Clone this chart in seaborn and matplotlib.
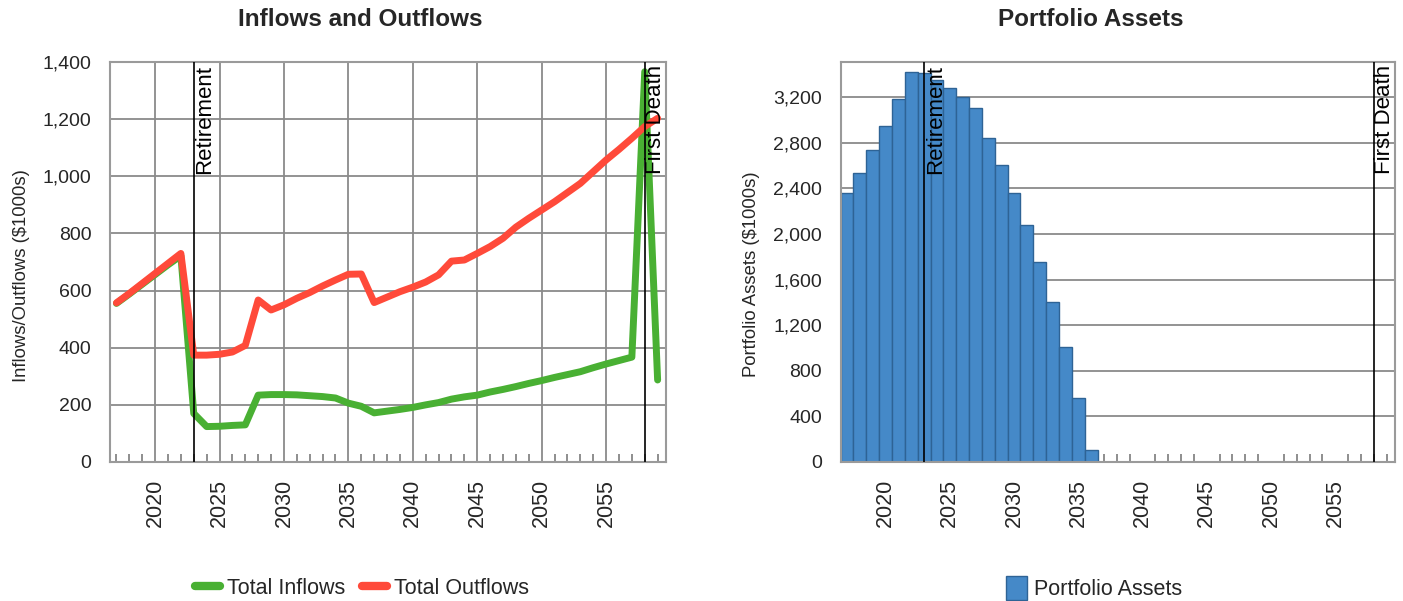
import numpy as np
import pandas as pd
import matplotlib
matplotlib.use('Agg')
import matplotlib.pyplot as plt
from matplotlib.ticker import MultipleLocator, FuncFormatter
from matplotlib.lines import Line2D
from matplotlib.patches import Patch
import seaborn as sns

# Years on both charts
years = list(range(2017, 2060))

# Inflows / outflows ($1000s)
total_inflows = [555, 588, 622, 656, 690, 722, 170, 124, 125, 128, 130, 234, 236, 236,
                 235, 232, 229, 224, 206, 195, 172, 178, 184, 191, 200, 208, 220, 228,
                 234, 245, 254, 264, 275, 285, 296, 306, 316, 330, 343, 355, 367, 1366, 287]
total_outflows = [557, 590, 625, 660, 695, 730, 374, 374, 377, 385, 408, 567, 532, 550,
                  573, 593, 616, 637, 657, 658, 558, 577, 596, 612, 630, 655, 703, 707,
                  730, 754, 783, 822, 853, 882, 911, 943, 975, 1016, 1057, 1094, 1133, 1174, 1203]

# Portfolio assets ($1000s)
asset_years = list(range(2017, 2037))
portfolio_assets = [2360, 2540, 2740, 2950, 3185, 3425, 3410, 3350, 3280, 3200,
                    3105, 2840, 2607, 2360, 2080, 1753, 1403, 1010, 565, 102]

retirement_year = 2023
first_death_year = 2058

green = '#49b033'
red = '#ff4a3a'
blue = '#4589c8'
grid_col = '#8a8a8a'
tick_col = '#707070'
spine_col = '#9a9a9a'

sns.set_style('white')
plt.rcParams['font.family'] = ['Liberation Sans', 'DejaVu Sans']

fig = plt.figure(figsize=(14.03, 6.01), dpi=100)
ax1 = fig.add_axes([110 / 1403, 139 / 601, 556 / 1403, 400 / 601])
ax2 = fig.add_axes([840.6 / 1403, 139 / 601, 554.4 / 1403, 400 / 601])

flows = pd.DataFrame({'year': years, 'Total Inflows': total_inflows, 'Total Outflows': total_outflows})
sns.lineplot(data=flows, x='year', y='Total Inflows', color=green, lw=5, ax=ax1, zorder=3)
sns.lineplot(data=flows, x='year', y='Total Outflows', color=red, lw=5, ax=ax1, zorder=4)

assets = pd.DataFrame({'year': asset_years, 'assets': portfolio_assets})
sns.barplot(data=assets, x='year', y='assets', native_scale=True, width=1.0,
            color=blue, saturation=1, edgecolor='#2e6395', linewidth=1.0, ax=ax2, zorder=2)

thousands = FuncFormatter(lambda v, p: f'{int(v):,}')

for ax in (ax1, ax2):
    ax.set_xlim(2016.5, 2059.65)
    ax.xaxis.set_major_locator(MultipleLocator(5))
    ax.xaxis.set_minor_locator(MultipleLocator(1))
    ax.tick_params(axis='x', which='major', direction='out', length=6, width=1.2,
                   color=tick_col, labelrotation=90, labelsize=15.5, pad=6)
    ax.tick_params(axis='x', which='minor', direction='in', length=6, width=1.1,
                   color=tick_col, bottom=True)
    ax.tick_params(axis='y', which='major', direction='out', length=7, width=1.2,
                   color=tick_col, labelsize=14, pad=6.5)
    ax.yaxis.set_major_formatter(thousands)
    ax.set_xlabel('')
    for s in ax.spines.values():
        s.set_color(spine_col)
        s.set_linewidth(1.5)
    ax.set_axisbelow(True)

ax1.set_ylim(0, 1400)
ax1.yaxis.set_major_locator(MultipleLocator(200))
ax1.grid(True, which='major', color=grid_col, lw=1.3)
ax1.set_ylabel('Inflows/Outflows ($1000s)', fontsize=13.3)
ax1.yaxis.set_label_coords(-0.143, 0.467)

ax2.set_ylim(0, 3510)
ax2.yaxis.set_major_locator(MultipleLocator(400))
ax2.grid(True, axis='y', which='major', color=grid_col, lw=1.3)
ax2.grid(False, axis='x')
ax2.set_ylabel('Portfolio Assets ($1000s)', fontsize=13.3)
ax2.yaxis.set_label_coords(-0.145, 0.47)

for ax in (ax1, ax2):
    ymax = ax.get_ylim()[1]
    for yr, name in ((retirement_year, 'Retirement'), (first_death_year, 'First Death')):
        ax.axvline(yr, color='black', lw=1.2, zorder=5)
        ax.text(yr + 0.05, ymax * 0.993, name, rotation=90, ha='left', va='top',
                fontsize=16, color='black', zorder=6)

fig.text(360 / 1403, 1 - 19 / 601, 'Inflows and Outflows', ha='center', va='center',
         fontsize=17.5, fontweight='bold')
fig.text(1091 / 1403, 1 - 19 / 601, 'Portfolio Assets', ha='center', va='center',
         fontsize=17.5, fontweight='bold')

h1 = [Line2D([], [], color=green, lw=6), Line2D([], [], color=red, lw=6)]
fig.legend(h1, ['Total Inflows', 'Total Outflows'], loc='center', bbox_to_anchor=(362 / 1403, 1 - 588 / 601),
           ncol=2, frameon=False, fontsize=15.5, handlelength=1.15, handletextpad=0.33, columnspacing=0.8)
h2 = [Patch(facecolor=blue, edgecolor='#2e6395')]
fig.legend(h2, ['Portfolio Assets'], loc='center', bbox_to_anchor=(1094 / 1403, 1 - 588 / 601),
           frameon=False, fontsize=15.5, handlelength=1.0, handleheight=1.4, handletextpad=0.33)

fig.savefig('out.png', dpi=100)
